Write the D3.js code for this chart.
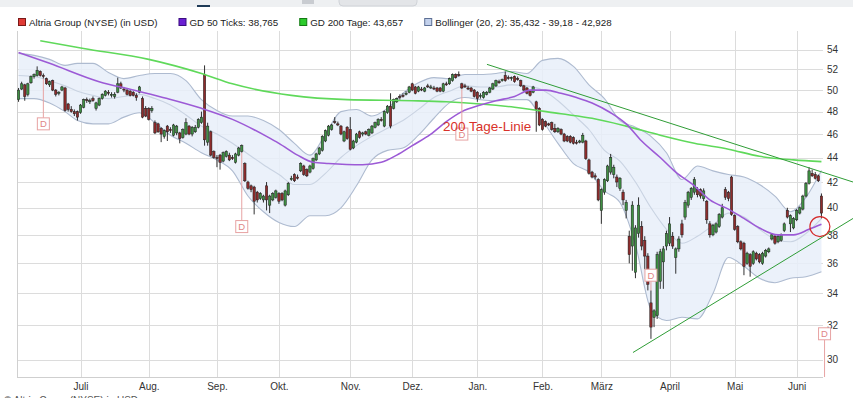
<!DOCTYPE html>
<html lang="de">
<head>
<meta charset="UTF-8">
<title>Altria Group (NYSE)</title>
<style>
  body { margin: 0; background: #fff; }
  svg { display: block; font-family: "Liberation Sans", Arial, sans-serif; }
</style>
</head>
<body>
<script src="https://cdn.jsdelivr.net/npm/d3@7"></script>
<script>
// daily candles, 3 Jun 2019 .. 11 Jun 2020 (trading days)
const openP = [49.1,50.1,50.5,49.6,50.7,51.3,51.4,51.8,51.4,51.1,50.5,50.9,50.0,49.7,50.0,50.2,48.7,48.2,48.0,48.0,
  47.9,48.4,49.1,48.9,49.2,48.3,48.6,49.2,49.5,49.8,49.5,49.4,49.8,50.6,50.1,50.0,49.9,49.8,49.5,49.8,
  49.2,48.3,48.3,48.1,47.0,46.9,46.5,45.8,46.7,46.4,45.9,46.1,46.1,45.7,46.0,46.7,46.0,46.2,46.6,47.0,
  51.5,45.3,46.2,44.5,44.0,44.2,43.7,44.1,44.2,44.0,43.6,44.2,44.5,43.5,42.0,41.7,41.6,41.2,40.7,40.6,
  41.7,40.2,40.6,40.8,41.1,41.1,40.2,41.0,42.2,42.6,42.4,42.9,43.3,43.0,42.8,43.1,43.8,44.3,44.6,45.4,
  45.9,46.4,47.1,46.9,46.7,45.4,46.6,46.4,44.8,45.3,46.2,46.0,46.2,45.9,46.1,46.6,46.8,47.3,46.7,47.9,
  48.5,48.3,48.9,49.4,49.5,49.6,49.8,50.6,50.3,49.9,50.1,49.9,50.4,50.2,50.2,50.2,50.2,49.9,50.6,50.6,
  50.9,51.5,51.5,50.6,50.4,50.2,50.2,50.0,49.8,49.4,49.3,49.6,49.8,50.1,50.4,50.8,50.9,51.4,51.2,51.1,
  51.3,51.1,50.9,50.4,50.2,49.9,49.8,48.9,48.3,47.3,47.1,46.9,47.0,46.5,46.2,46.4,46.0,45.8,45.8,45.7,
  45.3,45.3,45.3,45.4,43.8,42.8,42.5,42.2,39.8,41.2,42.1,42.8,42.6,42.4,41.5,41.2,39.8,37.9,37.2,35.4,
  38.1,38.6,37.6,36.5,33.4,32.5,32.6,34.8,36.1,37.2,37.4,37.9,36.4,37.0,38.8,39.3,40.2,40.8,41.2,41.4,
  41.4,40.7,40.5,38.8,38.0,38.2,38.6,39.3,41.4,41.2,42.4,39.4,38.6,37.5,37.4,36.0,36.6,36.0,36.7,36.6,
  36.0,36.5,36.8,37.7,37.9,37.5,37.6,38.3,39.8,38.8,38.5,39.1,39.6,39.9,40.9,41.9,42.7,42.6,42.5,40.9];
const highP = [50.2,50.8,50.6,50.7,51.4,51.6,52.3,51.9,51.6,51.2,50.9,51.0,50.1,49.9,50.4,50.3,48.8,48.5,48.2,48.1,
  48.7,49.2,49.3,49.2,49.4,48.9,49.3,49.7,50.0,50.0,49.8,49.8,51.2,50.8,50.3,50.1,50.0,49.9,49.7,50.4,
  49.4,48.5,48.4,48.5,47.2,47.0,46.6,46.4,46.8,46.6,46.9,46.8,46.2,46.5,47.4,46.8,46.7,46.8,47.4,48.0,
  52.4,47.0,46.3,44.6,44.2,44.3,44.5,44.6,44.4,44.2,44.4,44.9,45.1,43.6,42.1,41.8,41.7,41.3,41.2,41.0,
  42.0,41.0,41.2,41.4,41.2,41.2,41.4,42.0,42.5,42.7,42.6,43.6,43.4,43.1,43.4,44.0,44.4,44.9,45.9,46.4,
  46.8,46.9,47.5,47.1,46.8,46.3,46.7,47.5,45.5,46.1,46.3,46.2,46.3,46.5,46.8,47.1,47.4,47.5,48.1,48.6,
  49.7,49.2,49.3,49.6,49.7,49.9,50.4,50.7,50.4,50.4,50.3,50.3,50.6,50.5,50.4,50.3,50.3,50.7,50.8,51.2,
  51.6,51.6,51.8,50.7,50.6,50.4,50.3,50.1,49.9,49.7,49.9,49.9,50.3,50.7,51.0,51.0,51.1,51.8,51.4,51.3,
  51.4,51.3,51.0,50.5,50.3,50.0,50.4,49.0,48.4,47.4,47.2,47.0,47.1,46.9,46.6,46.5,46.1,45.9,45.9,45.8,
  45.5,45.5,46.1,45.5,43.9,42.9,42.7,42.3,41.5,42.3,43.4,44.3,43.4,42.6,42.4,41.4,40.6,38.3,40.5,38.7,
  40.8,39.0,37.9,36.7,34.2,33.0,36.8,37.0,37.2,38.3,39.3,38.2,37.1,37.9,39.1,40.6,41.3,41.6,42.4,41.6,
  41.5,41.5,40.6,39.0,38.8,38.9,39.6,40.3,41.6,41.3,42.5,39.5,38.7,37.6,37.5,36.8,36.7,36.9,36.8,36.7,
  36.8,37.0,37.1,38.1,38.0,38.0,38.1,38.9,40.0,39.5,39.3,39.9,40.1,41.0,42.0,43.2,43.0,42.8,42.6,41.1];
const lowP = [48.9,50.0,49.0,49.4,50.6,51.1,51.3,51.3,51.1,50.5,50.3,49.9,49.4,49.5,49.9,48.0,48.0,47.9,47.6,47.2,
  47.8,48.3,48.8,48.7,48.9,48.1,48.5,49.1,49.4,49.5,49.3,49.2,49.7,50.1,49.8,49.5,49.4,49.4,49.0,49.7,
  47.4,47.5,47.2,47.9,46.0,46.1,45.3,45.6,45.4,46.1,45.8,45.9,45.2,45.6,45.9,45.9,45.8,46.1,46.5,46.9,
  45.0,45.0,44.1,43.9,43.2,43.0,43.6,44.0,43.7,43.8,43.5,44.1,44.4,42.0,41.4,41.2,39.5,40.4,40.6,40.4,
  39.8,39.6,40.5,40.7,40.3,40.5,40.1,40.9,42.1,42.0,42.2,42.8,42.5,42.4,42.7,43.0,43.7,44.2,44.5,45.3,
  45.8,46.3,46.9,46.7,45.9,45.3,45.5,44.6,44.7,45.2,45.6,45.8,45.9,45.8,46.0,46.5,46.7,47.1,46.6,47.8,
  46.5,48.2,48.8,49.1,49.3,49.5,49.7,49.9,49.6,49.8,49.9,49.8,50.2,50.1,50.0,49.8,49.8,49.8,50.4,50.5,
  50.8,51.1,51.3,50.1,50.2,50.0,49.8,49.3,48.9,49.2,49.2,49.5,49.7,50.0,50.3,50.6,50.8,50.8,51.0,50.9,
  50.7,50.9,50.3,49.9,49.6,49.4,49.7,46.2,46.7,46.3,46.6,46.7,46.3,46.1,46.1,45.9,45.3,45.3,45.2,45.1,
  45.1,45.2,45.2,43.8,42.6,42.3,42.2,40.5,38.8,41.0,42.0,42.6,42.3,41.6,41.3,40.2,39.2,36.0,35.5,35.0,
  37.8,36.9,35.6,34.2,31.2,31.9,32.4,34.3,34.3,36.9,37.2,37.0,35.3,36.8,37.8,39.1,40.0,40.6,41.0,40.8,
  40.7,40.5,38.8,37.8,37.9,38.1,38.5,39.2,40.6,40.5,39.4,38.3,37.4,36.9,35.2,35.9,35.1,35.9,36.2,36.0,
  35.9,36.4,36.7,37.6,37.3,37.4,37.5,38.2,39.2,38.2,38.4,39.0,39.5,39.8,40.8,41.8,42.4,42.2,42.0,39.2];
const closeP = [50.0,50.6,49.4,50.6,51.3,51.5,51.9,51.4,51.3,50.6,50.8,50.0,49.6,49.8,50.3,48.1,48.2,48.0,47.8,47.5,
  48.6,49.1,49.0,49.0,49.0,48.8,49.2,49.6,49.9,49.7,49.6,49.6,50.6,50.2,50.0,49.6,49.5,49.5,49.3,50.3,
  47.5,47.6,47.3,48.3,46.1,46.2,46.0,46.3,46.2,46.3,46.8,46.7,45.6,46.4,47.0,46.0,46.6,46.6,47.3,47.5,
  45.5,46.7,44.2,44.0,43.9,43.6,44.4,44.5,43.8,43.9,44.3,44.8,45.0,42.1,41.5,41.4,40.5,40.6,41.1,40.9,
  40.6,40.9,41.1,41.3,40.5,40.6,41.3,41.9,42.3,42.1,42.3,43.5,42.6,42.5,43.3,43.9,44.3,44.8,45.8,46.3,
  46.7,46.8,47.0,46.8,46.0,46.2,45.6,44.7,45.4,46.0,45.7,46.1,46.0,46.4,46.7,47.0,47.3,47.2,48.0,48.5,
  46.7,49.1,49.2,49.3,49.4,49.7,50.3,50.0,49.7,50.3,50.0,50.2,50.3,50.3,50.1,49.9,49.9,50.6,50.5,51.1,
  51.5,51.2,51.4,50.2,50.3,50.1,49.9,49.4,49.2,49.5,49.8,49.8,50.2,50.6,50.9,50.7,51.0,50.9,51.1,51.2,
  50.8,51.0,50.4,50.0,49.7,49.5,50.3,48.2,46.8,46.4,46.7,46.8,46.4,46.2,46.5,46.0,45.4,45.4,45.3,45.2,
  45.2,45.4,45.9,43.9,42.7,42.4,42.4,40.6,41.4,42.2,43.3,44.0,43.2,42.0,42.3,40.6,40.4,36.6,40.2,38.5,
  40.2,37.2,36.5,34.6,31.9,32.9,36.6,36.8,37.0,38.1,38.8,37.2,37.0,37.7,38.0,40.4,41.2,41.5,42.2,41.0,
  40.9,41.3,39.1,38.0,38.7,38.8,39.5,40.0,40.8,40.7,39.5,38.4,37.5,37.0,35.8,36.7,35.8,36.8,36.3,36.1,
  36.7,36.9,37.0,38.0,37.4,37.9,38.0,38.8,39.3,39.4,39.2,39.8,40.0,40.9,41.9,42.9,42.5,42.3,42.1,39.6];

const monthLabels = ["Juli", "Aug.", "Sep.", "Okt.", "Nov.", "Dez.", "Jan.", "Feb.", "März", "April", "Mai", "Juni"];
const monthStart = [20, 42, 64, 84, 107, 127, 148, 169, 188, 210, 231, 251];
const yTicks = [30, 32, 34, 36, 38, 40, 42, 44, 46, 48, 50, 52, 54];

// indicators
const bandIdx = [0,5,10,15,19,24,29,34,39,44,49,54,59,64,69,74,79,84,89,94,99,104,109,114,119,124,
  129,134,139,144,149,154,159,164,169,174,179,184,189,194,199,204,209,214,219,224,229,234,239,244,249,254,259];
const bandUp = [53.6,53.4,53.0,52.4,52.6,52.6,51.7,51.1,51.4,51.6,51.6,50.9,49.1,48.1,47.6,47.6,47.2,46.4,45.2,44.2,46.0,48.0,48.2,47.6,48.3,49.7,
  50.7,51.2,51.1,51.5,51.5,51.6,51.8,51.6,52.9,53.1,52.3,50.5,49.2,47.2,46.6,45.8,44.4,42.2,43.3,42.9,42.6,42.4,41.8,40.9,39.7,40.8,42.928];
const bandMid = [51.4,51.3,50.9,50.4,49.9,49.5,49.2,49.4,49.6,49.2,48.6,47.7,46.7,46.0,45.2,44.3,43.4,42.6,41.8,41.8,42.7,44.0,45.0,45.8,46.5,47.2,
  48.2,49.3,49.9,50.4,50.3,50.3,50.5,50.4,50.0,49.0,47.7,46.4,44.6,43.7,42.0,40.0,38.4,37.4,37.9,38.7,39.6,39.3,38.4,37.7,37.5,38.1,39.18];
const bandLow = [49.2,49.2,48.8,48.0,47.2,46.9,46.9,47.5,47.9,47.0,45.9,45.2,44.4,43.8,42.9,40.9,39.7,38.9,38.6,39.4,39.4,40.0,41.7,43.8,44.6,44.8,
  45.9,47.4,48.8,49.3,49.1,49.0,49.1,49.1,47.2,45.2,43.5,42.8,41.3,40.4,37.3,33.0,32.3,32.5,32.4,34.0,36.4,35.8,35.0,34.7,35.0,35.1,35.432];

const gd50Idx = [0,10,26,37,48,59,69,80,84,90,95,100,111,117,122,127,133,138,143,149,154,160,165,170,175,180,185,191,196,201,207,212,218,223,229,234,239,245,250,255,259];
const gd50 = [53.7,52.6,50.8,50.0,49.2,48.3,47.3,45.8,45.2,44.2,43.6,43.5,43.4,43.6,44.2,45.0,46.0,47.1,48.0,48.6,49.0,49.4,50.0,50.0,49.7,49.3,48.8,47.9,46.9,45.4,44.0,42.8,41.7,40.6,39.9,39.2,38.5,38.0,38.0,38.4,38.765];

const gd200Idx = [7,21,42,59,69,88,106,127,138,149,160,175,185,196,207,218,229,239,250,259];
const gd200 = [54.9,54.1,53.0,51.6,50.6,49.5,49.1,49.0,48.9,48.7,48.4,47.8,47.4,46.7,45.9,45.2,44.7,44.1,43.8,43.657];

// dividend markers: trading-day index and price level of the box
const divIdx = [8, 72, 143, 204, 260];
const divLevel = [46.9, 38.6, 46.0, 35.2, 31.5];

// hand-drawn trend lines [index, price]
const trendTop = [[151.1, 52.5], [269.2, 42.0]];
const trendBottom = [[198.2, 30.4], [269.2, 39.2]];

const legendItems = [
  { label: "Altria Group (NYSE) (in USD)", fill: "#e03b36", stroke: "#7a1a18" },
  { label: "GD 50 Ticks: 38,765", fill: "#6b1fd3", stroke: "#3a0d80" },
  { label: "GD 200 Tage: 43,657", fill: "#2ccb2c", stroke: "#137a13" },
  { label: "Bollinger (20, 2): 35,432 - 39,18 - 42,928", fill: "#c3d1ec", stroke: "#5c6f94" }
];

let width = 853, height = 398;
let plotLeft = 17, plotRight = 823, plotTop = 31, plotBottom = 377;
let n = closeP.length;

let svg = d3.select("body").append("svg")
  .attr("width", width).attr("height", height);

let x = d3.scaleLinear().domain([-0.5, n - 0.5]).range([plotLeft, plotRight]);
let y = d3.scaleLog().domain([30, 54]).range([359.5, 49.5]);
let step = x(1) - x(0);

// leftover toolbar strip from the page
svg.append("rect").attr("x", 0).attr("y", 0).attr("width", width).attr("height", 7).attr("fill", "#eef0f2");
svg.append("rect").attr("x", 339).attr("y", -6).attr("width", 78).attr("height", 12).attr("rx", 4)
  .attr("fill", "#e3e5e8").attr("stroke", "#d0d3d8");
svg.append("rect").attr("x", 302).attr("y", 0).attr("width", 12).attr("height", 4).attr("fill", "#c9ccd1");
svg.append("rect").attr("x", 197).attr("y", 5).attr("width", 13).attr("height", 2).attr("fill", "#1f3b57");

// legend
let lg = svg.append("g").attr("transform", "translate(18,0)");
let lx = 0;
legendItems.forEach(function(d) {
  lg.append("rect").attr("x", lx + 0.5).attr("y", 18.5).attr("width", 7).attr("height", 7)
    .attr("fill", d.fill).attr("stroke", d.stroke).attr("stroke-width", 1);
  let t = lg.append("text").attr("x", lx + 11).attr("y", 25.5)
    .attr("font-size", "9.8px").attr("fill", "#222").text(d.label);
  lx += 11 + t.node().getComputedTextLength() + 21;
});

// grid
let grid = svg.append("g").attr("shape-rendering", "crispEdges");
grid.selectAll(".hg").data(yTicks).enter().append("line")
  .attr("x1", plotLeft).attr("x2", plotRight)
  .attr("y1", d => Math.round(y(d)) + 0.5).attr("y2", d => Math.round(y(d)) + 0.5)
  .attr("stroke", "#dcdcdc");
grid.selectAll(".vg").data(monthStart).enter().append("line")
  .attr("x1", d => Math.round(x(d)) + 0.5).attr("x2", d => Math.round(x(d)) + 0.5)
  .attr("y1", plotTop).attr("y2", plotBottom)
  .attr("stroke", "#dcdcdc");
grid.append("line").attr("x1", plotLeft + 0.5).attr("x2", plotLeft + 0.5).attr("y1", plotTop).attr("y2", plotBottom).attr("stroke", "#d0d0d0");
grid.append("line").attr("x1", plotLeft).attr("x2", plotRight).attr("y1", plotBottom + 0.5).attr("y2", plotBottom + 0.5).attr("stroke", "#cfcfcf");

// axes labels
let yAxis = d3.axisRight(y).tickValues(yTicks).tickFormat(d3.format("d")).tickSize(0).tickPadding(4);
svg.append("g").attr("transform", "translate(" + plotRight + ",0)").call(yAxis)
  .call(g => g.select(".domain").remove())
  .call(g => g.selectAll("text").attr("font-size", "10px").attr("fill", "#333").attr("font-family", null));

let xAxis = d3.axisBottom(x).tickValues(monthStart)
  .tickFormat((d, i) => monthLabels[i]).tickSize(0).tickPadding(6);
svg.append("g").attr("transform", "translate(0," + plotBottom + ")").call(xAxis)
  .call(g => g.select(".domain").remove())
  .call(g => g.selectAll("text").attr("font-size", "10px").attr("fill", "#333").attr("font-family", null));

// Bollinger band
let band = bandIdx.map((d, i) => ({ i: d, up: bandUp[i], mid: bandMid[i], lo: bandLow[i] }));
svg.append("path").datum(band)
  .attr("d", d3.area().x(d => x(d.i)).y0(d => y(d.lo)).y1(d => y(d.up)).curve(d3.curveMonotoneX))
  .attr("fill", "#e7eef9").attr("fill-opacity", 0.85);
[["up", "#aebbd0"], ["lo", "#aebbd0"], ["mid", "#c9d3e2"]].forEach(function(k) {
  svg.append("path").datum(band)
    .attr("d", d3.line().x(d => x(d.i)).y(d => y(d[k[0]])).curve(d3.curveMonotoneX))
    .attr("fill", "none").attr("stroke", k[1]).attr("stroke-width", 1.1);
});

// candles
let candles = svg.append("g");
let cdata = d3.range(n);
candles.selectAll(".wick").data(cdata).enter().append("line")
  .attr("x1", i => x(i)).attr("x2", i => x(i))
  .attr("y1", i => y(highP[i])).attr("y2", i => y(lowP[i]))
  .attr("stroke", "#1a1a1a").attr("stroke-width", 0.9);
candles.selectAll(".body").data(cdata).enter().append("rect")
  .attr("x", i => x(i) - step * 0.38)
  .attr("width", step * 0.76)
  .attr("y", i => y(Math.max(openP[i], closeP[i])))
  .attr("height", i => Math.max(0.8, Math.abs(y(openP[i]) - y(closeP[i]))))
  .attr("fill", i => closeP[i] >= openP[i] ? "#3f8f43" : "#8e2c2c")
  .attr("stroke", "#1c1c1c").attr("stroke-width", 0.5);

// moving averages
svg.append("path").datum(gd200Idx.map((d, i) => [d, gd200[i]]))
  .attr("d", d3.line().x(d => x(d[0])).y(d => y(d[1])).curve(d3.curveMonotoneX))
  .attr("fill", "none").attr("stroke", "#5fd95a").attr("stroke-width", 1.6);
svg.append("path").datum(gd50Idx.map((d, i) => [d, gd50[i]]))
  .attr("d", d3.line().x(d => x(d[0])).y(d => y(d[1])).curve(d3.curveMonotoneX))
  .attr("fill", "none").attr("stroke", "#9c5ad6").attr("stroke-width", 1.6);

// trend lines
[trendTop, trendBottom].forEach(function(t) {
  svg.append("line")
    .attr("x1", x(t[0][0])).attr("y1", y(t[0][1]))
    .attr("x2", x(t[1][0])).attr("y2", y(t[1][1]))
    .attr("stroke", "#2f9d36").attr("stroke-width", 1);
});

// dividend markers
let dg = svg.append("g");
divIdx.forEach(function(d, k) {
  let cx = x(d), cy = y(divLevel[k]);
  let y1, y2;
  if (d >= n) { y1 = cy + 6; y2 = plotBottom; }
  else if (y(lowP[d]) < cy) { y1 = y(lowP[d]); y2 = cy - 6; }
  else { y1 = cy + 6; y2 = y(highP[d]); }
  dg.append("line").attr("x1", cx).attr("x2", cx).attr("y1", y1).attr("y2", y2)
    .attr("stroke", "#e7a3a3").attr("stroke-width", 1);
  dg.append("rect").attr("x", cx - 6).attr("y", cy - 6).attr("width", 12).attr("height", 12)
    .attr("fill", "#fff").attr("stroke", "#e7a3a3");
  dg.append("text").attr("x", cx).attr("y", cy + 3.5).attr("text-anchor", "middle")
    .attr("font-size", "9.5px").attr("fill", "#df8686").text("D");
});

// annotations
svg.append("text").attr("x", x(136.9)).attr("y", y(46.3))
  .attr("font-size", "13.5px").attr("fill", "#d8322a").text("200 Tage-Linie");
svg.append("circle").attr("cx", x(258.5)).attr("cy", y(38.6)).attr("r", 10)
  .attr("fill", "none").attr("stroke", "#d42a2a").attr("stroke-width", 1.2);

// cut-off footer line
svg.append("text").attr("x", 4).attr("y", 404).attr("font-size", "10px").attr("fill", "#555")
  .text("© Altria Group (NYSE) in USD");
</script>
</body>
</html>
